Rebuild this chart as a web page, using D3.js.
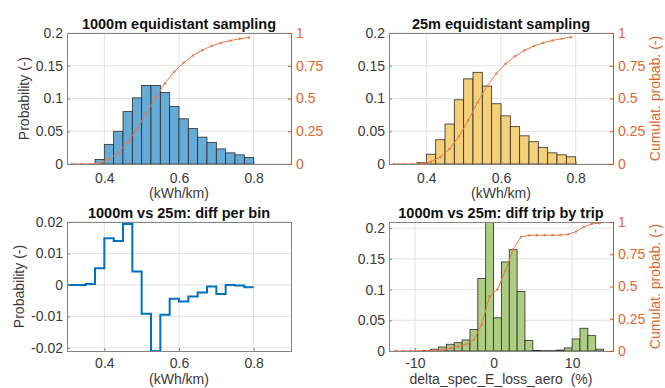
<!DOCTYPE html>
<html><head><meta charset="utf-8">
<script src="https://cdn.jsdelivr.net/npm/d3@7/dist/d3.min.js"></script>
<style>
body{margin:0;background:#fff}
text{font-family:"Liberation Sans",Arial,Helvetica,sans-serif}
</style>
</head><body>
<svg id="c" width="665" height="388"></svg>
<script>
// ---------- data ----------
const energyEdges = [0.375,0.4,0.425,0.45,0.475,0.5,0.525,0.55,0.575,0.6,0.625,0.65,0.675,0.7,0.725,0.75,0.775,0.8];
const prob1000 = [0.007,0.030,0.050,0.080,0.101,0.120,0.120,0.109,0.088,0.069,0.054,0.041,0.033,0.023,0.017,0.014,0.010];
const prob25   = [0.002,0.015,0.037,0.061,0.098,0.130,0.140,0.119,0.092,0.0735,0.057,0.043,0.034,0.0255,0.017,0.014,0.011];
const cdfCenters = [0.3125,0.3375,0.3625,0.3875,0.4125,0.4375,0.4625,0.4875,0.5125,0.5375,0.5625,0.5875,0.6125,0.6375,0.6625,0.6875,0.7125,0.7375,0.7625,0.7875];
const cdf1000 = [0,0,0,0.007,0.037,0.087,0.167,0.268,0.388,0.508,0.617,0.705,0.774,0.828,0.869,0.902,0.925,0.942,0.956,0.966];
const cdf25   = [0,0,0,0.002,0.017,0.054,0.115,0.210,0.335,0.470,0.595,0.690,0.765,0.822,0.866,0.900,0.925,0.943,0.957,0.968];
const diffEdges = [0.3,0.325,0.35,0.375,0.4,0.425,0.45,0.475,0.5,0.525,0.55,0.575,0.6,0.625,0.65,0.675,0.7,0.725,0.75,0.775,0.8];
const diffPerBin = [0,0,0.0003,0.0053,0.0148,0.014,0.0194,0.0043,-0.0092,-0.021,-0.0095,-0.0044,-0.0053,-0.0037,-0.0024,-0.0005,-0.0029,0,-0.0002,-0.0007];
const tripEdges = [-9,-8,-7,-6,-5,-4,-3,-2,-1,0,1,2,3,4,5,6,7,8,9,10,11,12,13,14];
const tripProb = [0.001,0.003,0.0065,0.011,0.0135,0.018,0.035,0.118,0.218,0.054,0.145,0.165,0.097,0.017,0.001,0.0005,0.0005,0.0015,0.005,0.0196,0.037,0.025,0.003];
const tripCdfX = [-12.5,-11.5,-10.5,-9.5,-8.5,-7.5,-6.5,-5.5,-4.5,-3.5,-2.5,-1.5,-0.5,0.5,1.5,2.5,3.5,4.5,5.5,6.5,7.5,8.5,9.5,10.5,11.5,12.5,13.5];
const tripCdf  = [0,0,0,0,0.001,0.004,0.0105,0.0215,0.035,0.053,0.088,0.206,0.424,0.478,0.623,0.788,0.885,0.896,0.897,0.897,0.898,0.899,0.904,0.926,0.963,0.986,0.99];
const probTicks = [0,0.05,0.1,0.15,0.2];
const cumTicks = [0,0.25,0.5,0.75,1];
const diffTicks = [-0.02,-0.01,0,0.01,0.02];
const energyTicks = [0.4,0.6,0.8];
const deltaTicks = [-10,0,10];

// ---------- style ----------
const ORANGE = '#D95319', ORANGE_TXT = '#E0672F', LINE_OR = '#E57A4A';
const GRID = '#e2e2e2', BOX = '#858585', TXT = '#3a3a3a';
const svg = d3.select('#c');
let clipN = 0;

function makePanel(c){
  const x = d3.scaleLinear().domain(c.xDomain).range([c.left, c.right]);
  const y = d3.scaleLinear().domain(c.yDomain).range([c.bottom, c.top]);
  const yR = c.right2 ? d3.scaleLinear().domain([0,1]).range([c.bottom, c.top]) : null;
  const g = svg.append('g');
  g.append('g').selectAll('line').data(c.xTicks).join('line')
    .attr('x1', d=>x(d)).attr('x2', d=>x(d)).attr('y1', c.top).attr('y2', c.bottom)
    .attr('stroke', GRID).attr('stroke-width', 1);
  g.append('g').selectAll('line').data(c.yTicks).join('line')
    .attr('y1', d=>y(d)).attr('y2', d=>y(d)).attr('x1', c.left).attr('x2', c.right)
    .attr('stroke', GRID).attr('stroke-width', 1);
  const id = 'clip' + (clipN++);
  svg.append('clipPath').attr('id', id).append('rect')
    .attr('x', c.left).attr('y', c.top).attr('width', c.right - c.left).attr('height', c.bottom - c.top);
  const plot = g.append('g').attr('clip-path', `url(#${id})`);
  return {x, y, yR, g, plot, c};
}

function styleAxis(sel, col, lineCol){
  sel.select('.domain').remove();
  sel.selectAll('.tick line').attr('stroke', lineCol || col);
  sel.selectAll('.tick text').attr('fill', col).style('font-size', '14px');
}

function finishPanel(p){
  const {g, c, x, y, yR} = p;
  const fmt = d => String(d);
  g.append('g').attr('transform', `translate(0,${c.bottom})`)
    .call(d3.axisBottom(x).tickValues(c.xTicks).tickFormat(fmt).tickSizeInner(-3).tickSizeOuter(0).tickPadding(c.xPad))
    .call(s => styleAxis(s, TXT, BOX));
  g.append('g').attr('transform', `translate(${c.left},0)`)
    .call(d3.axisLeft(y).tickValues(c.yTicks).tickFormat(fmt).tickSizeInner(-3).tickSizeOuter(0).tickPadding(4))
    .call(s => styleAxis(s, TXT, BOX));
  // box
  g.append('line').attr('x1', c.left).attr('x2', c.right).attr('y1', c.top+0.5).attr('y2', c.top+0.5).attr('stroke', BOX);
  g.append('line').attr('x1', c.left).attr('x2', c.right).attr('y1', c.bottom+0.5).attr('y2', c.bottom+0.5).attr('stroke', BOX);
  g.append('line').attr('x1', c.left+0.5).attr('x2', c.left+0.5).attr('y1', c.top).attr('y2', c.bottom+1).attr('stroke', BOX);
  g.append('line').attr('x1', c.right+0.5).attr('x2', c.right+0.5).attr('y1', c.top).attr('y2', c.bottom+1)
    .attr('stroke', yR ? ORANGE : BOX);
  if (yR){
    g.append('g').attr('transform', `translate(${c.right},0)`)
      .call(d3.axisRight(yR).tickValues(cumTicks).tickFormat(fmt).tickSizeInner(-3).tickSizeOuter(0).tickPadding(5))
      .call(s => styleAxis(s, ORANGE_TXT, ORANGE));
  }
  const cx = (c.left + c.right) / 2, cy = (c.top + c.bottom) / 2;
  g.append('text').attr('x', cx).attr('y', c.titleY).attr('text-anchor', 'middle')
    .style('font-size', '14.5px').style('font-weight', 'bold').attr('fill', '#111').text(c.title);
  g.append('text').attr('x', cx).attr('y', c.xLabelY).attr('text-anchor', 'middle')
    .style('font-size', '14px').style('white-space', 'pre').attr('xml:space', 'preserve')
    .attr('fill', TXT).text(c.xLabel);
  if (c.yLabel){
    g.append('text').attr('transform', `translate(${c.yLabelX},${cy}) rotate(-90)`).attr('text-anchor', 'middle')
      .style('font-size', '14px').attr('fill', TXT).text(c.yLabel);
  }
  if (c.rLabel){
    g.append('text').attr('transform', `translate(${c.rLabelX},${cy}) rotate(-90)`).attr('text-anchor', 'middle')
      .style('font-size', '14px').attr('fill', ORANGE_TXT).text(c.rLabel);
  }
}

function drawBars(p, edges, vals, fill){
  p.plot.append('g').selectAll('rect').data(vals).join('rect')
    .attr('x', (d,i) => p.x(edges[i]))
    .attr('width', (d,i) => p.x(edges[i+1]) - p.x(edges[i]))
    .attr('y', d => p.y(d))
    .attr('height', d => p.y(0) - p.y(d))
    .attr('fill', fill).attr('stroke', '#2b2b2b').attr('stroke-width', 0.8);
}

function drawCdf(p, xs, ys){
  const pts = xs.map((v,i) => [p.x(v), p.yR(ys[i])]);
  p.plot.append('path').attr('d', d3.line()(pts)).attr('fill', 'none')
    .attr('stroke', LINE_OR).attr('stroke-width', 1);
  p.plot.append('g').selectAll('circle').data(pts).join('circle')
    .attr('cx', d => d[0]).attr('cy', d => d[1]).attr('r', 1.2).attr('fill', LINE_OR);
}

// ---------- panel 1 ----------
const p1 = makePanel({left:67, right:291, top:33, bottom:164, xDomain:[0.3,0.9], yDomain:[0,0.2],
  xTicks:energyTicks, yTicks:probTicks, right2:true, xPad:9, titleY:29, xLabelY:198,
  title:'1000m equidistant sampling', xLabel:'(kWh/km)', yLabel:'Probability (-)', yLabelX:29});
drawBars(p1, energyEdges, prob1000, '#66AAD7');
drawCdf(p1, cdfCenters, cdf1000);
finishPanel(p1);

// ---------- panel 2 ----------
const p2 = makePanel({left:389, right:613, top:33, bottom:164, xDomain:[0.3,0.9], yDomain:[0,0.2],
  xTicks:energyTicks, yTicks:probTicks, right2:true, xPad:9, titleY:29, xLabelY:198,
  title:'25m equidistant sampling', xLabel:'(kWh/km)', rLabel:'Cumulat. probab. (-)', rLabelX:660});
drawBars(p2, energyEdges, prob25, '#F4D079');
drawCdf(p2, cdfCenters, cdf25);
finishPanel(p2);

// ---------- panel 3 ----------
const p3 = makePanel({left:67, right:291, top:222, bottom:351, xDomain:[0.3,0.9], yDomain:[-0.021,0.02],
  xTicks:energyTicks, yTicks:diffTicks, right2:false, xPad:7, titleY:217.5, xLabelY:384,
  title:'1000m vs 25m: diff per bin', xLabel:'(kWh/km)', yLabel:'Probability (-)', yLabelX:24});
{
  const pts = diffEdges.map((e,i) => [p3.x(e), p3.y(diffPerBin[Math.min(i, diffPerBin.length-1)])]);
  p3.g.append('path').attr('d', d3.line().curve(d3.curveStepAfter)(pts)).attr('fill','none')
    .attr('stroke', '#0072BD').attr('stroke-width', 2);
}
finishPanel(p3);

// ---------- panel 4 ----------
const p4 = makePanel({left:389, right:613, top:222, bottom:351, xDomain:[-13.3,15.2], yDomain:[0,0.21],
  xTicks:deltaTicks, yTicks:probTicks, right2:true, xPad:7, titleY:217.5, xLabelY:384,
  title:'1000m vs 25m: diff trip by trip', xLabel:'delta_spec_E_loss_aero  (%)', rLabel:'Cumulat. probab. (-)', rLabelX:660});
drawBars(p4, tripEdges, tripProb, '#ADCD83');
drawCdf(p4, tripCdfX, tripCdf);
finishPanel(p4);
</script>
</body></html>
